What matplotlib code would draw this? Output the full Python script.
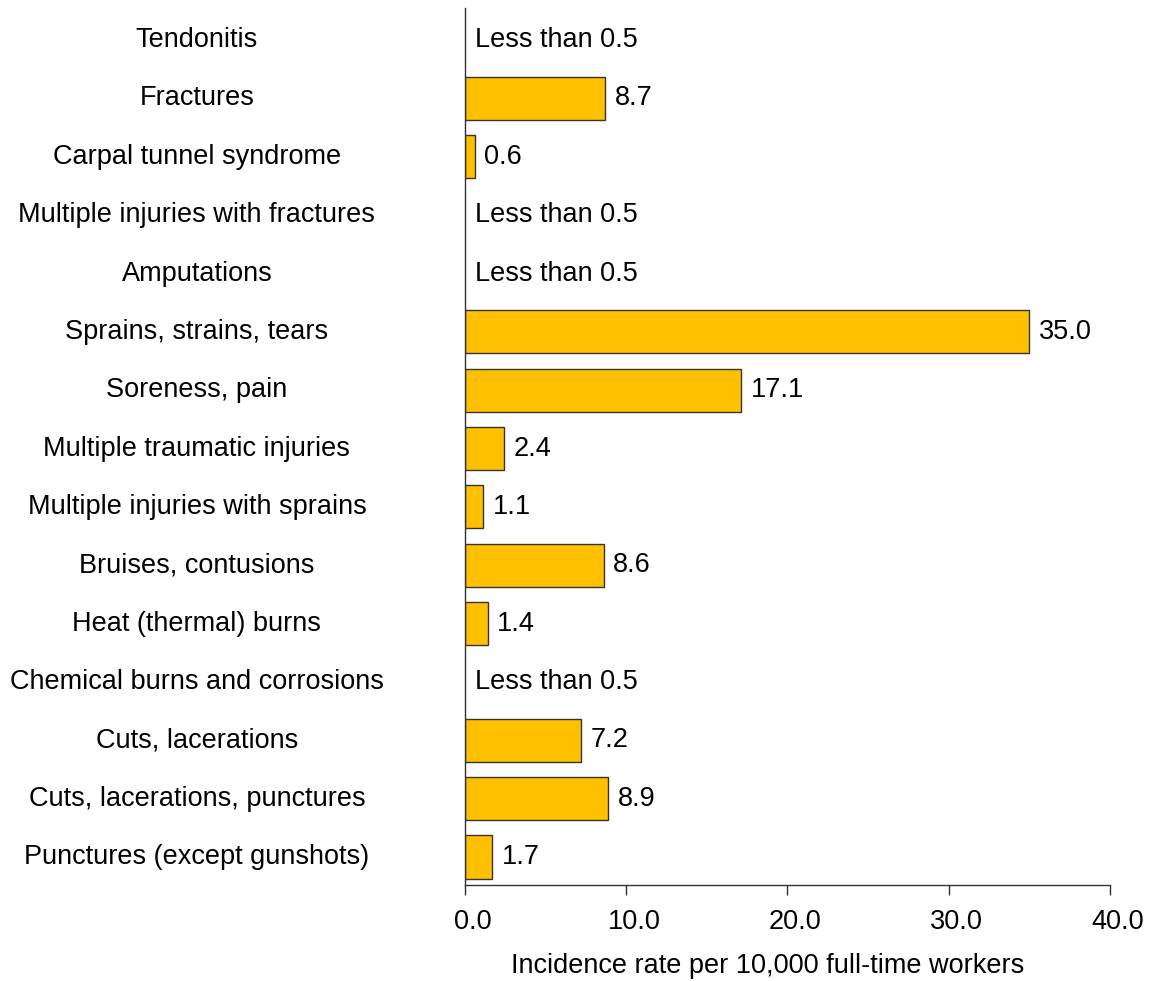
import numpy as np
import matplotlib.pyplot as plt
import matplotlib.transforms as mtransforms

plt.rcParams['font.family'] = ['Liberation Sans', 'DejaVu Sans']

# injury categories, top to bottom
categories = ['Tendonitis', 'Fractures', 'Carpal tunnel syndrome',
              'Multiple injuries with fractures', 'Amputations',
              'Sprains, strains, tears', 'Soreness, pain',
              'Multiple traumatic injuries', 'Multiple injuries with sprains',
              'Bruises, contusions', 'Heat (thermal) burns',
              'Chemical burns and corrosions', 'Cuts, lacerations',
              'Cuts, lacerations, punctures', 'Punctures (except gunshots)']
# None = less than 0.5
rates = [None, 8.7, 0.6, None, None, 35.0, 17.1, 2.4, 1.1, 8.6, 1.4,
         None, 7.2, 8.9, 1.7]
xticks = [0, 10, 20, 30, 40]

fig = plt.figure(figsize=(11.5, 9.81), dpi=100)
ax = fig.add_axes([0.4043, 0.0979, 0.5609, 0.8939])

y = np.arange(len(categories))
bar_y = [yi for yi, r in zip(y, rates) if r is not None]
bar_v = [r for r in rates if r is not None]
ax.barh(bar_y, bar_v, height=0.74, color='#FFC000',
        edgecolor='#333333', linewidth=1.0)

fs = 19.5
for yi, r in zip(y, rates):
    if r is None:
        txt, xv = 'Less than 0.5', 0
    else:
        txt, xv = f'{r:.1f}', r
    ax.annotate(txt, (xv, yi), xytext=(7, 0), textcoords='offset points',
                ha='left', va='center', fontsize=fs)

# centered category labels left of the axis
trans = mtransforms.blended_transform_factory(ax.transAxes, ax.transData)
for yi, c in zip(y, categories):
    ax.text(-0.4155, yi, c, transform=trans, ha='center', va='center',
            fontsize=fs)

ax.set_ylim(14.48, -0.55)
ax.set_xlim(0, 40)
ax.set_yticks([])
ax.set_xticks(xticks)
ax.set_xticklabels([f'{t:.1f}' for t in xticks], fontsize=fs)
ax.tick_params(axis='x', length=7, width=1, color='#333333', pad=10)
off = mtransforms.ScaledTranslation(8 / 100, 0, fig.dpi_scale_trans)
for lab in ax.get_xticklabels():
    lab.set_transform(lab.get_transform() + off)

ax.set_xlabel('Incidence rate per 10,000 full-time workers', fontsize=fs)
ax.xaxis.set_label_coords(0.47, -0.078)

for s in ['top', 'right']:
    ax.spines[s].set_visible(False)
for s in ['left', 'bottom']:
    ax.spines[s].set_color('#333333')
    ax.spines[s].set_linewidth(1)

fig.savefig('out.png', dpi=100)
